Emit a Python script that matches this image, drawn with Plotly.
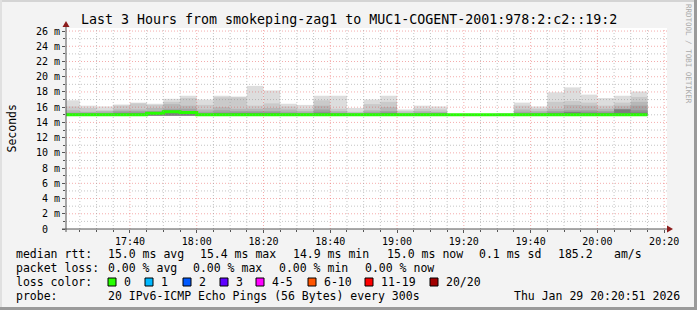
import plotly.graph_objects as go
import pandas as pd

# ---------------- data ----------------
DAY = "2026-01-29"
RANGE_START = "17:20:51"
RANGE_END = "20:20:51"
STEP_SECONDS = 300

step_end = ["17:25", "17:30", "17:35", "17:40", "17:45", "17:50", "17:55", "18:00",
            "18:05", "18:10", "18:15", "18:20", "18:25", "18:30", "18:35", "18:40",
            "18:45", "18:50", "18:55", "19:00", "19:05", "19:10", "19:15", "19:20",
            "19:25", "19:30", "19:35", "19:40", "19:45", "19:50", "19:55", "20:00",
            "20:05", "20:10", "20:15"]

median_rtt = [15.0, 15.0, 15.0, 15.0, 15.0, 15.2, 15.4, 15.3, 15.0, 15.0, 15.0, 15.0,
              15.0, 15.0, 15.0, 15.0, 15.0, 15.0, 15.0, 15.0, 15.0, 15.0, 15.0, 15.0,
              15.0, 15.0, 15.0, 15.0, 15.0, 15.0, 15.0, 15.0, 15.0, 15.0, 15.0]

ping_min = [14.9, 14.9, 14.9, 14.9, 14.9, 14.9, 14.9, 14.9, 14.9, 14.9, 14.9, 14.9,
            14.9, 14.9, 14.9, 14.9, 14.9, 14.9, 14.9, 14.9, 14.9, 14.9, 14.9, 14.9,
            14.9, 14.9, 14.9, 14.9, 14.9, 14.9, 14.9, 14.9, 14.9, 14.9, 14.9]

# upper edges of the smoke layers (outermost / lightest first)
smoke_top_1 = [16.9, 16.2, 16.1, 16.35, 16.6, 16.45, 17.1, 17.5, 17.0, 17.5, 17.4, 18.8,
               18.2, 16.45, 16.3, 17.5, 17.5, 15.9, 17.0, 17.5, 15.7, 16.2, 16.1, 15.1,
               15.05, 15.05, 15.2, 16.6, 16.1, 17.95, 18.6, 17.65, 17.2, 17.5, 18.05]
smoke_top_2 = [16.1, 15.9, 15.6, 16.2, 16.5, 16.3, 16.7, 17.2, 16.3, 17.3, 17.3, 16.2,
               16.5, 16.1, 15.8, 16.9, 15.8, 15.4, 16.4, 16.7, 15.5, 15.8, 15.7, 15.1,
               15.05, 15.05, 15.15, 16.2, 15.8, 16.7, 16.8, 16.6, 16.2, 16.6, 17.35]
smoke_top_3 = [15.6, 15.4, 15.5, 15.7, 15.7, 15.9, 16.4, 16.2, 15.7, 16.0, 15.8, 15.8,
               15.9, 15.7, 15.5, 16.2, 15.5, 15.3, 15.6, 16.0, 15.3, 15.5, 15.4, 15.05,
               15.0, 15.0, 15.1, 15.7, 15.5, 15.8, 16.3, 16.2, 15.8, 16.2, 16.7]
smoke_top_4 = [15.3, 15.3, 15.3, 15.5, 15.5, 15.5, 15.8, 15.8, 15.4, 15.6, 15.5, 15.5,
               15.5, 15.4, 15.3, 15.7, 15.3, 15.2, 15.4, 15.5, 15.2, 15.3, 15.3, 15.0,
               15.0, 15.0, 15.05, 15.4, 15.3, 15.5, 15.6, 15.6, 15.5, 15.8, 16.2]
smoke_top_5 = [15.2, 15.2, 15.2, 15.3, 15.3, 15.4, 15.6, 15.5, 15.2, 15.3, 15.3, 15.3,
               15.3, 15.2, 15.2, 15.4, 15.2, 15.1, 15.2, 15.3, 15.1, 15.2, 15.2, 15.0,
               15.0, 15.0, 15.0, 15.2, 15.2, 15.3, 15.4, 15.4, 15.3, 15.7, 15.6]
smoke_top_6 = [15.1, 15.1, 15.1, 15.2, 15.2, 15.3, 15.5, 15.4, 15.1, 15.2, 15.2, 15.2,
               15.2, 15.1, 15.1, 15.2, 15.1, 15.1, 15.1, 15.2, 15.1, 15.1, 15.1, 15.0,
               15.0, 15.0, 15.0, 15.1, 15.1, 15.2, 15.35, 15.2, 15.2, 15.7, 15.3]
smoke_colors = ["#dddddd", "#cacaca", "#b7b7b7", "#a4a4a4", "#919191", "#7e7e7e"]

x_tick_labels = ["17:40", "18:00", "18:20", "18:40", "19:00", "19:20", "19:40", "20:00", "20:20"]
y_tick_values = [0, 2, 4, 6, 8, 10, 12, 14, 16, 18, 20, 22, 24, 26]
y_tick_labels = ["0\u00a0\u00a0", "2 m", "4 m", "6 m", "8 m", "10 m", "12 m", "14 m",
                 "16 m", "18 m", "20 m", "22 m", "24 m", "26 m"]

title_text = "Last 3 Hours from smokeping-zag1 to MUC1-COGENT-2001:978:2:c2::19:2"
rtt_line = ["median rtt:", "15.0 ms avg", "15.4 ms max", "14.9 ms min", "15.0 ms now",
            "0.1 ms sd", "185.2", "am/s"]
loss_line = ["packet loss:", "0.00 % avg", "0.00 % max", "0.00 % min", "0.00 % now"]
loss_labels = ["0", "1", "2", "3", "4-5", "6-10", "11-19", "20/20"]
loss_colors = ["#26ff00", "#00b8ff", "#0059ff", "#5e00ff", "#ff00ff", "#ff5500", "#ff0000", "#a10000"]
probe_text = "20 IPv6-ICMP Echo Pings (56 Bytes) every 300s"
stamp_text = "Thu Jan 29 20:20:51 2026"
watermark = "RRDTOOL / TOBI OETIKER"

# ---------------- derived ----------------
ends = pd.to_datetime([f"{DAY} {t}" for t in step_end])
step = pd.Timedelta(seconds=STEP_SECONDS)
starts = ends - step
centers = ends - step / 2
x0 = pd.Timestamp(f"{DAY} {RANGE_START}")
x1 = pd.Timestamp(f"{DAY} {RANGE_END}")

L, R, T, B = 66, 30, 28, 81
W, H = 697, 310
PW, PH = W - L - R, H - T - B
YMAX = 26.4

def px(x):
    return (x - L) / PW

def py(y):
    return (H - B - y) / PH

fig = go.Figure()

smoke_tops = [smoke_top_1, smoke_top_2, smoke_top_3, smoke_top_4, smoke_top_5, smoke_top_6]
for tops, col in zip(smoke_tops, smoke_colors):
    fig.add_trace(go.Bar(
        x=centers, y=[t - b for t, b in zip(tops, ping_min)], base=ping_min,
        width=STEP_SECONDS * 1000, marker=dict(color=col, line=dict(width=0)),
        hoverinfo="skip", showlegend=False))

fig.add_trace(go.Scatter(
    x=list(starts) + [ends[-1]], y=median_rtt + [median_rtt[-1]],
    mode="lines", line=dict(color=loss_colors[0], width=3, shape="hv"),
    hoverinfo="skip", showlegend=False))

shapes = []
# grid (drawn above the smoke, as rrdtool does)
minor_col = "rgba(150,150,150,0.55)"
major_col = "rgba(230,70,70,0.45)"
dash = "1px,2px"
for v in range(1, 27):
    shapes.append(dict(type="line", xref="x domain", yref="y", x0=0, x1=1, y0=v, y1=v,
                       line=dict(color=major_col if v % 2 == 0 else minor_col, width=1, dash=dash),
                       layer="above"))
major_x = pd.to_datetime([f"{DAY} {t}" for t in x_tick_labels])
for t in pd.date_range(f"{DAY} 17:25", f"{DAY} 20:20", freq="5min"):
    shapes.append(dict(type="line", xref="x", yref="y domain", x0=t, x1=t, y0=0, y1=1,
                       line=dict(color=major_col if t in major_x else minor_col, width=1, dash=dash),
                       layer="above"))
# axis lines and arrows
axis_col = "#555555"
shapes.append(dict(type="line", xref="paper", yref="paper", x0=px(66), x1=px(66),
                   y0=py(232), y1=py(25), line=dict(color=axis_col, width=1), layer="above"))
shapes.append(dict(type="line", xref="paper", yref="paper", x0=px(62), x1=px(669),
                   y0=py(229), y1=py(229), line=dict(color=axis_col, width=1), layer="above"))
arrow_col = "#8c1c1c"
shapes.append(dict(type="path", xref="paper", yref="paper",
                   path=f"M {px(66)} {py(21)} L {px(62.5)} {py(27)} L {px(69.5)} {py(27)} Z",
                   fillcolor=arrow_col, line=dict(width=0), layer="above"))
shapes.append(dict(type="path", xref="paper", yref="paper",
                   path=f"M {px(673)} {py(229)} L {px(667)} {py(225.5)} L {px(667)} {py(232.5)} Z",
                   fillcolor=arrow_col, line=dict(width=0), layer="above"))
# frame
shapes.append(dict(type="rect", xref="paper", yref="paper", x0=px(0), x1=px(697), y0=py(0), y1=py(2),
                   fillcolor="#d4d4d4", line=dict(width=0)))
shapes.append(dict(type="rect", xref="paper", yref="paper", x0=px(0), x1=px(2), y0=py(0), y1=py(310),
                   fillcolor="#e0e0e0", line=dict(width=0)))
shapes.append(dict(type="rect", xref="paper", yref="paper", x0=px(694), x1=px(697), y0=py(0), y1=py(310),
                   fillcolor="#9a9a9a", line=dict(width=0)))
shapes.append(dict(type="rect", xref="paper", yref="paper", x0=px(0), x1=px(697), y0=py(307), y1=py(310),
                   fillcolor="#9a9a9a", line=dict(width=0)))

FONT = "DejaVu Sans Mono"
anns = []

def text(x, y, s, size=11.5, anchor="left", color="#000000", angle=0):
    anns.append(dict(x=px(x), y=py(y), xref="paper", yref="paper", text=s, showarrow=False,
                     xanchor=anchor, yanchor="middle", textangle=angle,
                     font=dict(family=FONT, size=size, color=color), borderpad=0, borderwidth=0))

text(348.5, 19, title_text, size=13.3, anchor="center")
text(11, 128.5, "Seconds", size=11.5, anchor="center", angle=-90)
text(688, 54, watermark, size=7.5, anchor="center", color="#aaaaaa", angle=90)

for x, s in zip([16, 108, 200, 293, 387, 479, 558, 614], rtt_line):
    text(x, 254, s)
for x, s in zip([16, 108, 193, 279, 365], loss_line):
    text(x, 268, s)
text(16, 282, "loss color:")
box_x = [108, 145, 183, 220, 256, 308, 365, 430]
for bx, lab, col in zip(box_x, loss_labels, loss_colors):
    shapes.append(dict(type="rect", xref="paper", yref="paper", x0=px(bx), x1=px(bx + 8),
                       y0=py(278), y1=py(286), fillcolor=col, line=dict(color="#000000", width=1)))
    text(bx + 15.5, 282, lab)
text(16, 296, "probe:")
text(108, 296, probe_text)
text(680, 296, stamp_text, anchor="right")

fig.update_layout(
    width=W, height=H, margin=dict(l=L, r=R, t=T, b=B, pad=0),
    paper_bgcolor="#f3f3f3", plot_bgcolor="#ffffff",
    barmode="overlay", showlegend=False,
    font=dict(family=FONT, color="#000000"),
    shapes=shapes, annotations=anns,
    xaxis=dict(type="date", range=[x0, x1], tickvals=list(major_x), ticktext=x_tick_labels,
               ticks="outside", ticklen=3, tickcolor=axis_col, showgrid=False, zeroline=False,
               showline=False, tickfont=dict(family=FONT, size=10, color="#000000"),
               minor=dict(ticks="outside", ticklen=2, tickcolor=axis_col, dtick=STEP_SECONDS * 1000,
                          tick0=f"{DAY} 17:25", showgrid=False)),
    yaxis=dict(range=[0, YMAX], tickvals=y_tick_values, ticktext=y_tick_labels,
               ticks="outside", ticklen=3, tickcolor=axis_col, showgrid=False, zeroline=False,
               showline=False, tickfont=dict(family=FONT, size=10, color="#000000"),
               minor=dict(ticks="outside", ticklen=2, tickcolor=axis_col, dtick=1, showgrid=False)),
)

fig.write_html("out.html")
